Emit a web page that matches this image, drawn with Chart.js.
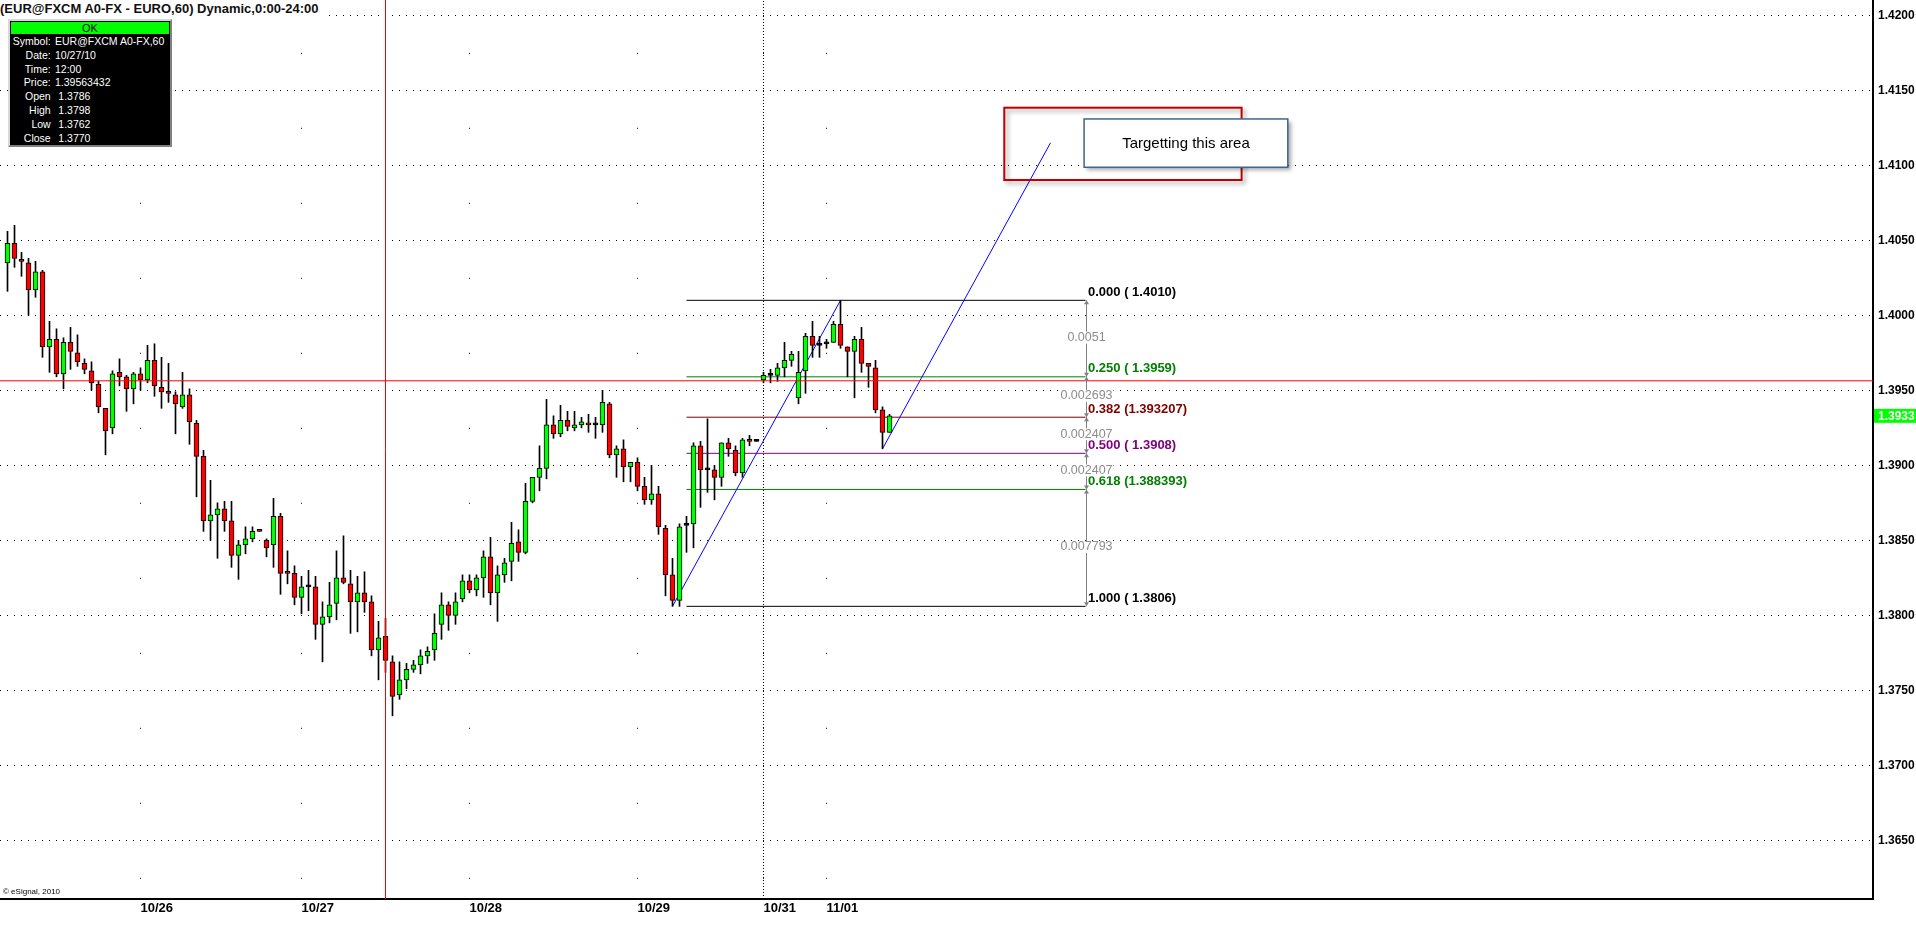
<!DOCTYPE html>
<html lang="en">
<head>
    <meta charset="UTF-8">
    <title>EUR@FXCM A0-FX,60</title>
    <script src="https://cdn.jsdelivr.net/npm/chart.js"></script>
    <style>
        body { margin: 0; background: #fff; font-family: "Liberation Sans", Arial, sans-serif; }
        .wrap { position: relative; width: 1916px; height: 931px; overflow: hidden; }
        .title {
            position: absolute; left: 0; top: 0; height: 16px; line-height: 17px;
            padding-right: 4px; background: #fff; color: #111;
            font-size: 13px; font-weight: bold; white-space: nowrap;
        }
        .info {
            position: absolute; left: 8px; top: 19px; width: 160px; height: 124px;
            background: #000; border: 2px solid; border-color: #d8d8d8 #808080 #808080 #d8d8d8;
        }
        .ok {
            margin: 0.5px 1px 0 1px; height: 12px; line-height: 12px; background: #00ff00;
            color: #000; text-align: center; font-size: 11px;
        }
        .rows { padding-top: 1.3px; }
        .row { position: relative; height: 13.9px; line-height: 13.9px; font-size: 10.5px; color: #fff; white-space: nowrap; }
        .row .k { position: absolute; left: 0; width: 40.7px; text-align: right; }
        .row .v { position: absolute; left: 45px; }
        .row .v.w { left: 48.3px; }
        .copy { position: absolute; left: 3px; top: 887px; font-size: 8px; line-height: 10px; color: #000; }
    </style>
</head>
<body>
<div class="wrap">
    <canvas id="priceChart" width="1916" height="931"></canvas>
    <div class="title">(EUR@FXCM A0-FX - EURO,60) Dynamic,0:00-24:00</div>
    <div class="info">
        <div class="ok">OK</div>
        <div class="rows" id="infoRows"></div>
    </div>
    <div class="copy">&copy; eSignal, 2010</div>
</div>

<script>
    // price axis
    const yMin = 1.36109;
    const yMax = 1.42102;
    const priceTicks = [1.3650, 1.3700, 1.3750, 1.3800, 1.3850, 1.3900, 1.3950, 1.4000, 1.4050, 1.4100, 1.4150, 1.4200];

    // bar index axis (one slot per hourly bar, empty space on the right)
    const xMin = -1.0714286;
    const xMax = 266.5;
    const dayLabels = ['10/26', '10/27', '10/28', '10/29', '10/31', '11/01'];
    const dayStart = [19, 42, 66, 90, 108, 117];

    // hourly candles
    const opens = [
        1.4035, 1.4048, 1.4037, 1.4035, 1.4017, 1.4029, 1.3979, 1.3984, 1.3961, 1.3982,
        1.3975, 1.3968, 1.3963, 1.3954, 1.3938, 1.3925, 1.3962, 1.3959, 1.3951, 1.3961,
        1.3957, 1.3970, 1.3952, 1.3949, 1.3947, 1.3939, 1.3947, 1.3928, 1.3906, 1.3863,
        1.3867, 1.3871, 1.3863, 1.3840, 1.3847, 1.3851, 1.3857, 1.3850, 1.3847, 1.3866,
        1.3829, 1.3828, 1.3812, 1.3819, 1.3819, 1.3794, 1.3799, 1.3808, 1.3825, 1.3821,
        1.3809, 1.3815, 1.3809, 1.3777, 1.3786, 1.3769, 1.3747, 1.3757, 1.3764, 1.3767,
        1.3773, 1.3777, 1.3794, 1.3807, 1.3800, 1.3811, 1.3823, 1.3817, 1.3825, 1.3839,
        1.3815, 1.3827, 1.3836, 1.3849, 1.3842, 1.3876, 1.3892, 1.3898, 1.3927, 1.3921,
        1.3930, 1.3925, 1.3927, 1.3928, 1.3927, 1.3927, 1.3941, 1.3907, 1.3911, 1.3899,
        1.3902, 1.3886, 1.3877, 1.3881, 1.3858, 1.3827, 1.3810, 1.3860, 1.3861, 1.3913,
        1.3897, 1.3897, 1.3892, 1.3915, 1.3910, 1.3895, 1.3917, 1.3916, 1.3957, 1.3960,
        1.3960, 1.3965, 1.3970, 1.3945, 1.3963, 1.3986, 1.3980, 1.3981, 1.3982, 1.3994,
        1.3979, 1.3976, 1.3984, 1.3968, 1.3965, 1.3937, 1.3922
    ];
    const highs = [
        1.4056, 1.4060, 1.4042, 1.4038, 1.4036, 1.4030, 1.3996, 1.3991, 1.3985, 1.3992,
        1.3987, 1.3971, 1.3969, 1.3956, 1.3938, 1.3963, 1.3971, 1.3960, 1.3962, 1.3965,
        1.3980, 1.3981, 1.3972, 1.3968, 1.3949, 1.3962, 1.3951, 1.3930, 1.3910, 1.3890,
        1.3875, 1.3876, 1.3876, 1.3850, 1.3859, 1.3859, 1.3857, 1.3851, 1.3878, 1.3868,
        1.3843, 1.3833, 1.3826, 1.3830, 1.3826, 1.3809, 1.3822, 1.3843, 1.3853, 1.3830,
        1.3826, 1.3829, 1.3813, 1.3796, 1.3798, 1.3773, 1.3769, 1.3768, 1.3770, 1.3777,
        1.3779, 1.3801, 1.3815, 1.3809, 1.3815, 1.3827, 1.3827, 1.3827, 1.3843, 1.3852,
        1.3833, 1.3838, 1.3862, 1.3857, 1.3888, 1.3892, 1.3913, 1.3944, 1.3933, 1.3940,
        1.3936, 1.3936, 1.3932, 1.3934, 1.3932, 1.3950, 1.3942, 1.3913, 1.3917, 1.3902,
        1.3905, 1.3892, 1.3900, 1.3886, 1.3860, 1.3838, 1.3861, 1.3866, 1.3915, 1.3916,
        1.3931, 1.3900, 1.3915, 1.3918, 1.3913, 1.3918, 1.3920, 1.3917, 1.3962, 1.3964,
        1.3968, 1.3982, 1.3976, 1.3976, 1.3988, 1.3996, 1.3986, 1.3984, 1.3996, 1.4010,
        1.3979, 1.3986, 1.3992, 1.3968, 1.3970, 1.3939, 1.3934
    ];
    const lows = [
        1.4016, 1.4032, 1.4026, 1.4000, 1.4012, 1.3972, 1.3962, 1.3959, 1.3951, 1.3964,
        1.3966, 1.3961, 1.3950, 1.3935, 1.3907, 1.3921, 1.3953, 1.3936, 1.3941, 1.3950,
        1.3955, 1.3946, 1.3938, 1.3942, 1.3921, 1.3938, 1.3914, 1.3879, 1.3856, 1.3850,
        1.3838, 1.3856, 1.3832, 1.3824, 1.3841, 1.3849, 1.3856, 1.3839, 1.3832, 1.3814,
        1.3821, 1.3807, 1.3801, 1.3803, 1.3784, 1.3769, 1.3795, 1.3797, 1.3821, 1.3788,
        1.3789, 1.3802, 1.3773, 1.3757, 1.3762, 1.3733, 1.3744, 1.3751, 1.3762, 1.3761,
        1.3768, 1.3770, 1.3784, 1.3790, 1.3794, 1.3809, 1.3815, 1.3813, 1.3812, 1.3807,
        1.3796, 1.3822, 1.3823, 1.3836, 1.3841, 1.3875, 1.3883, 1.3891, 1.3918, 1.3919,
        1.3923, 1.3923, 1.3925, 1.3922, 1.3918, 1.3922, 1.3905, 1.3892, 1.3889, 1.3889,
        1.3883, 1.3874, 1.3874, 1.3854, 1.3813, 1.3806, 1.3806, 1.3842, 1.3845, 1.3872,
        1.3882, 1.3877, 1.3886, 1.3906, 1.3893, 1.3892, 1.3913, 1.3916, 1.3955, 1.3955,
        1.3956, 1.3959, 1.3966, 1.3941, 1.3948, 1.3972, 1.3972, 1.3978, 1.3982, 1.3978,
        1.3959, 1.3945, 1.3962, 1.3952, 1.3935, 1.3911, 1.3922
    ];
    const closes = [
        1.4048, 1.4038, 1.4036, 1.4017, 1.4029, 1.3979, 1.3984, 1.3961, 1.3982, 1.3976,
        1.3969, 1.3964, 1.3955, 1.3939, 1.3923, 1.3961, 1.3959, 1.3951, 1.3961, 1.3957,
        1.3970, 1.3953, 1.3949, 1.3948, 1.3941, 1.3947, 1.3929, 1.3906, 1.3863, 1.3867,
        1.3871, 1.3863, 1.3840, 1.3847, 1.3851, 1.3856, 1.3856, 1.3845, 1.3866, 1.3828,
        1.3828, 1.3812, 1.3819, 1.3819, 1.3794, 1.3799, 1.3807, 1.3825, 1.3822, 1.3809,
        1.3815, 1.3809, 1.3777, 1.3785, 1.3770, 1.3746, 1.3757, 1.3764, 1.3767, 1.3773,
        1.3776, 1.3788, 1.3807, 1.3800, 1.3809, 1.3823, 1.3817, 1.3825, 1.3839, 1.3815,
        1.3827, 1.3835, 1.3848, 1.3842, 1.3876, 1.3892, 1.3898, 1.3927, 1.3921, 1.3930,
        1.3926, 1.3927, 1.3929, 1.3927, 1.3927, 1.3942, 1.3907, 1.3911, 1.3899, 1.3902,
        1.3886, 1.3877, 1.3881, 1.3859, 1.3827, 1.3810, 1.3859, 1.3860, 1.3913, 1.3897,
        1.3897, 1.3892, 1.3915, 1.3911, 1.3895, 1.3917, 1.3916, 1.3916, 1.3960, 1.3960,
        1.3965, 1.3970, 1.3974, 1.3962, 1.3986, 1.3980, 1.3980, 1.3981, 1.3994, 1.3980,
        1.3976, 1.3984, 1.3968, 1.3966, 1.3937, 1.3922, 1.3933
    ];

    // cursor (info window bar)
    const crossIndex = 54;
    const crossPrice = 1.39563432;

    // fibonacci retracement drawn from the 10/29 low to the 11/01 high
    const fibStart = 97;
    const fibEnd = 154;
    const fibPrices = [1.4010, 1.3959, 1.393207, 1.3908, 1.388393, 1.3806];
    const fibText = ['0.000 ( 1.4010)', '0.250 ( 1.3959)', '0.382 (1.393207)', '0.500 ( 1.3908)', '0.618 (1.388393)', '1.000 ( 1.3806)'];
    const fibColors = ['#000000', '#008000', '#800000', '#800080', '#008000', '#000000'];
    const fibGaps = ['0.0051', '0.002693', '0.002407', '0.002407', '0.007793'];

    // trend lines [index, price]
    const trendUp = [[95, 1.3806], [119, 1.4010]];
    const trendTarget = [[125, 1.3911], [149, 1.4115]];

    const FONT = '"Liberation Sans", Arial, sans-serif';
    Chart.defaults.font.family = FONT;

    // info window rows
    const infoRows = [
        ['Symbol:', 'EUR@FXCM A0-FX,60', false],
        ['Date:', '10/27/10', false],
        ['Time:', '12:00', false],
        ['Price:', crossPrice.toFixed(8), false],
        ['Open', opens[crossIndex].toFixed(4), true],
        ['High', highs[crossIndex].toFixed(4), true],
        ['Low', lows[crossIndex].toFixed(4), true],
        ['Close', closes[crossIndex].toFixed(4), true]
    ];
    document.getElementById('infoRows').innerHTML = infoRows.map(r =>
        '<div class="row"><span class="k">' + r[0] + '</span><span class="v' + (r[2] ? ' w' : '') + '">' + r[1] + '</span></div>'
    ).join('');

    const candleColor = (o, c) => c > o ? '#00ff00' : (c < o ? '#ff0000' : '#000000');

    const lineSet = (pts, color, order, dash) => ({
        type: 'line',
        data: pts.map(p => ({ x: p[0], y: p[1] })),
        borderColor: color,
        borderWidth: 1,
        borderDash: dash || [],
        pointRadius: 0,
        fill: false,
        tension: 0,
        order: order
    });

    const datasets = [
        {
            label: 'wicks',
            data: highs.map((h, i) => ({ x: i, y: [lows[i], h] })),
            backgroundColor: '#000',
            borderWidth: 0,
            barThickness: 1,
            minBarLength: 1,
            grouped: false,
            order: 3
        },
        {
            label: 'bodies',
            data: opens.map((o, i) => ({ x: i, y: [o, closes[i]] })),
            backgroundColor: opens.map((o, i) => candleColor(o, closes[i])),
            borderColor: '#000',
            borderWidth: 1,
            borderSkipped: false,
            barThickness: 5,
            minBarLength: 2,
            grouped: false,
            order: 2
        },
        lineSet(trendUp, '#0000ff', 5),
        lineSet(trendTarget, '#0000ff', 5),
        lineSet([[dayStart[4], yMin], [dayStart[4], yMax]], '#000', 6, [1, 2]),
        lineSet([[xMin, crossPrice], [xMax, crossPrice]], '#ff0000', 1),
        lineSet([[crossIndex, yMin], [crossIndex, yMax]], '#ff0000', 1)
    ];
    fibPrices.forEach((p, k) => datasets.push(lineSet([[fibStart, p], [fibEnd, p]], fibColors[k], 5)));

    // fib texts, target area, last price tag
    const overlay = {
        id: 'overlay',
        afterDatasetsDraw(chart) {
            const { ctx, scales: { x, y } } = chart;
            const px = v => x.getPixelForValue(v);
            const py = v => y.getPixelForValue(v);
            ctx.save();

            // fib measuring line
            const mx = Math.round(px(fibEnd)) + 0.5;
            ctx.strokeStyle = '#808080';
            ctx.fillStyle = '#808080';
            ctx.lineWidth = 1;
            ctx.beginPath();
            ctx.moveTo(mx, py(fibPrices[0]));
            ctx.lineTo(mx, py(fibPrices[fibPrices.length - 1]));
            ctx.stroke();
            fibPrices.forEach((p, k) => {
                const ly = py(p);
                if (k > 0) {
                    ctx.beginPath();
                    ctx.moveTo(mx - 2.5, ly - 4); ctx.lineTo(mx + 2.5, ly - 4); ctx.lineTo(mx, ly);
                    ctx.fill();
                }
                if (k < fibPrices.length - 1) {
                    ctx.beginPath();
                    ctx.moveTo(mx - 2.5, ly + 4); ctx.lineTo(mx + 2.5, ly + 4); ctx.lineTo(mx, ly);
                    ctx.fill();
                }
            });

            // level labels
            ctx.font = 'bold 13px ' + FONT;
            ctx.textAlign = 'left';
            ctx.textBaseline = 'middle';
            fibPrices.forEach((p, k) => {
                ctx.fillStyle = fibColors[k];
                ctx.fillText(fibText[k], mx + 1.5, py(p) - 8);
            });

            // distance labels
            ctx.font = '12.5px ' + FONT;
            ctx.textAlign = 'center';
            fibGaps.forEach((t, k) => {
                const cy = (py(fibPrices[k]) + py(fibPrices[k + 1])) / 2 - 1;
                const w = ctx.measureText(t).width;
                ctx.fillStyle = '#fff';
                ctx.fillRect(mx - w / 2 - 1, cy - 6, w + 2, 12);
                ctx.fillStyle = '#8c8c8c';
                ctx.fillText(t, mx, cy);
            });

            // target rectangle
            ctx.save();
            ctx.shadowColor = 'rgba(0,0,0,0.35)';
            ctx.shadowBlur = 4;
            ctx.shadowOffsetX = 3;
            ctx.shadowOffsetY = 3;
            ctx.strokeStyle = '#c00000';
            ctx.lineWidth = 2;
            const rx1 = px(142.4), rx2 = px(176.3), ry1 = py(1.41384), ry2 = py(1.40902);
            ctx.strokeRect(rx1, ry1, rx2 - rx1, ry2 - ry1);

            // callout
            const bx1 = px(153.8), bx2 = px(182.9), by1 = py(1.41309), by2 = py(1.40987);
            ctx.fillStyle = '#fff';
            ctx.fillRect(bx1, by1, bx2 - bx1, by2 - by1);
            ctx.restore();
            ctx.strokeStyle = '#3f6491';
            ctx.lineWidth = 1.5;
            ctx.strokeRect(bx1, by1, bx2 - bx1, by2 - by1);
            ctx.fillStyle = '#000';
            ctx.font = '15px ' + FONT;
            ctx.textAlign = 'center';
            ctx.fillText('Targetting this area', (bx1 + bx2) / 2, (by1 + by2) / 2 + 1);

            // last price tag
            const last = closes[closes.length - 1];
            const ty = py(last);
            ctx.fillStyle = '#00ff00';
            ctx.fillRect(x.right + 1, ty - 7, chart.width - x.right - 1, 14);
            ctx.fillStyle = '#fff';
            ctx.font = 'bold 12px ' + FONT;
            ctx.textAlign = 'left';
            ctx.fillText(last.toFixed(4), x.right + 5, ty + 0.5);

            ctx.restore();
        }
    };

    const ctx = document.getElementById('priceChart').getContext('2d');
    const priceChart = new Chart(ctx, {
        type: 'bar',
        data: { datasets: datasets },
        options: {
            responsive: false,
            animation: false,
            devicePixelRatio: 1,
            layout: { padding: 0 },
            plugins: { legend: { display: false }, tooltip: { enabled: false } },
            scales: {
                x: {
                    type: 'linear',
                    min: xMin,
                    max: xMax,
                    offset: false,
                    afterBuildTicks: s => { s.ticks = dayStart.map(v => ({ value: v })); },
                    afterFit: s => { s.height = 32; s.paddingLeft = 0; s.paddingRight = 0; },
                    ticks: {
                        callback: (v, i) => dayLabels[i],
                        align: 'start',
                        autoSkip: false,
                        maxRotation: 0,
                        padding: 2,
                        color: '#000',
                        font: { size: 13, weight: 'bold' }
                    },
                    grid: { color: '#000', lineWidth: 1, drawTicks: false, offset: false },
                    border: { color: '#000', width: 2, dash: [1, 74], dashOffset: 22.2 }
                },
                y: {
                    type: 'linear',
                    position: 'right',
                    min: yMin,
                    max: yMax,
                    beginAtZero: false,
                    afterBuildTicks: s => { s.ticks = priceTicks.map(v => ({ value: v })); },
                    afterFit: s => { s.width = 43; s.paddingTop = 0; s.paddingBottom = 0; },
                    ticks: {
                        callback: v => v.toFixed(4),
                        padding: 5,
                        color: '#000',
                        font: { size: 12, weight: 'bold' }
                    },
                    grid: { color: '#000', lineWidth: 1, drawTicks: false },
                    border: { color: '#000', width: 2, dash: [1, 6] }
                }
            }
        },
        plugins: [overlay]
    });
</script>
</body>
</html>
